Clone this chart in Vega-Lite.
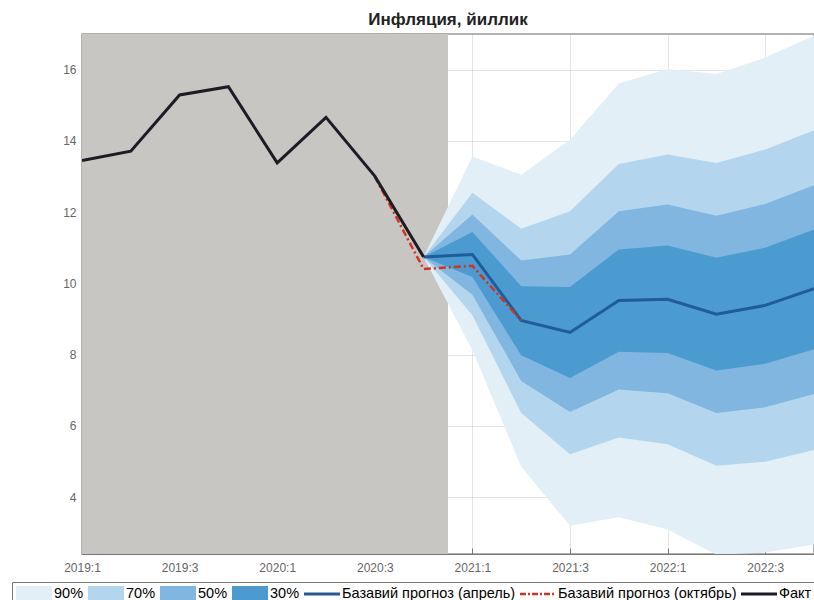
{
  "$schema": "https://vega.github.io/schema/vega-lite/v6.json",
  "width": 732,
  "height": 520,
  "autosize": "none",
  "padding": {"left": 82, "top": 34, "right": 0, "bottom": 46},
  "background": "white",
  "title": {"text": "Инфляция, йиллик", "anchor": "middle", "font": "Liberation Sans", "fontSize": 17, "fontWeight": "bold", "color": "#222", "offset": 8, "baseline": "bottom", "dy": 20},
  "config": {
    "view": {"stroke": "#999", "strokeWidth": 1.5},
    "axis": {"labelFont": "Liberation Sans", "labelFontSize": 12, "labelColor": "#666666", "domainColor": "#777", "tickColor": "#777", "gridColor": "#000", "gridOpacity": 0.1, "zindex": 1, "title": null, "labelFlush": false},
    "legend": {"title": null, "orient": "none", "legendX": -70, "legendY": 548, "direction": "horizontal", "columns": 7,
      "padding": 4, "strokeColor": "#777", "fillColor": "#fff", "labelFont": "Liberation Sans", "labelFontSize": 14.5, "labelColor": "#000", "labelLimit": 0,
      "labelOffset": 23, "columnPadding": 4, "symbolSize": 225, "symbolStrokeWidth": 0, "symbolOpacity": 1}
  },
  "datasets": {
    "fan": [
      {"t": 7, "band": "90%", "lo": 10.74, "hi": 10.74},
      {"t": 8, "band": "90%", "lo": 8.12, "hi": 13.56},
      {"t": 9, "band": "90%", "lo": 4.85, "hi": 13.05},
      {"t": 10, "band": "90%", "lo": 3.19, "hi": 14.03},
      {"t": 11, "band": "90%", "lo": 3.43, "hi": 15.61},
      {"t": 12, "band": "90%", "lo": 3.09, "hi": 16.02},
      {"t": 13, "band": "90%", "lo": 2.38, "hi": 15.88},
      {"t": 14, "band": "90%", "lo": 2.44, "hi": 16.34},
      {"t": 15, "band": "90%", "lo": 2.67, "hi": 16.95},
      {"t": 7, "band": "70%", "lo": 10.74, "hi": 10.74},
      {"t": 8, "band": "70%", "lo": 9.10, "hi": 12.54},
      {"t": 9, "band": "70%", "lo": 6.36, "hi": 11.53},
      {"t": 10, "band": "70%", "lo": 5.20, "hi": 12.02},
      {"t": 11, "band": "70%", "lo": 5.67, "hi": 13.35},
      {"t": 12, "band": "70%", "lo": 5.48, "hi": 13.62},
      {"t": 13, "band": "70%", "lo": 4.88, "hi": 13.38},
      {"t": 14, "band": "70%", "lo": 4.99, "hi": 13.76},
      {"t": 15, "band": "70%", "lo": 5.32, "hi": 14.30},
      {"t": 7, "band": "50%", "lo": 10.74, "hi": 10.74},
      {"t": 8, "band": "50%", "lo": 9.68, "hi": 11.93},
      {"t": 9, "band": "50%", "lo": 7.26, "hi": 10.64},
      {"t": 10, "band": "50%", "lo": 6.39, "hi": 10.81},
      {"t": 11, "band": "50%", "lo": 7.02, "hi": 12.02},
      {"t": 12, "band": "50%", "lo": 6.91, "hi": 12.21},
      {"t": 13, "band": "50%", "lo": 6.36, "hi": 11.90},
      {"t": 14, "band": "50%", "lo": 6.52, "hi": 12.23},
      {"t": 15, "band": "50%", "lo": 6.89, "hi": 12.75},
      {"t": 7, "band": "30%", "lo": 10.74, "hi": 10.74},
      {"t": 8, "band": "30%", "lo": 10.18, "hi": 11.44},
      {"t": 9, "band": "30%", "lo": 7.98, "hi": 9.92},
      {"t": 10, "band": "30%", "lo": 7.34, "hi": 9.90},
      {"t": 11, "band": "30%", "lo": 8.08, "hi": 10.95},
      {"t": 12, "band": "30%", "lo": 8.04, "hi": 11.06},
      {"t": 13, "band": "30%", "lo": 7.55, "hi": 10.72},
      {"t": 14, "band": "30%", "lo": 7.74, "hi": 11.00},
      {"t": 15, "band": "30%", "lo": 8.15, "hi": 11.51}
    ],
    "lines": [
      {"t": 0, "series": "Факт", "v": 13.45},
      {"t": 1, "series": "Факт", "v": 13.71},
      {"t": 2, "series": "Факт", "v": 15.29},
      {"t": 3, "series": "Факт", "v": 15.52},
      {"t": 4, "series": "Факт", "v": 13.38},
      {"t": 5, "series": "Факт", "v": 14.66},
      {"t": 6, "series": "Факт", "v": 13.01},
      {"t": 7, "series": "Факт", "v": 10.74},
      {"t": 6, "series": "Базавий прогноз (октябрь)", "v": 13.0},
      {"t": 7, "series": "Базавий прогноз (октябрь)", "v": 10.40},
      {"t": 8, "series": "Базавий прогноз (октябрь)", "v": 10.49},
      {"t": 9, "series": "Базавий прогноз (октябрь)", "v": 8.96},
      {"t": 7, "series": "Базавий прогноз (апрель)", "v": 10.74},
      {"t": 8, "series": "Базавий прогноз (апрель)", "v": 10.81},
      {"t": 9, "series": "Базавий прогноз (апрель)", "v": 8.96},
      {"t": 10, "series": "Базавий прогноз (апрель)", "v": 8.62},
      {"t": 11, "series": "Базавий прогноз (апрель)", "v": 9.52},
      {"t": 12, "series": "Базавий прогноз (апрель)", "v": 9.55},
      {"t": 13, "series": "Базавий прогноз (апрель)", "v": 9.13},
      {"t": 14, "series": "Базавий прогноз (апрель)", "v": 9.38},
      {"t": 15, "series": "Базавий прогноз (апрель)", "v": 9.85}
    ],
    "shade": [{"a": 0, "b": 7.5}]
  },
  "encoding": {
    "x": {"type": "quantitative", "scale": {"domain": [0, 15], "nice": false, "zero": false},
      "axis": {"values": [0, 2, 4, 6, 8, 10, 12, 14], "labelExpr": "(2019 + floor(datum.value / 4)) + ':' + (datum.value % 4 + 1)", "tickSize": -6, "labelPadding": 14, "grid": true}}
  },
  "layer": [
    {
      "data": {"name": "shade"},
      "mark": {"type": "rect", "color": "#c8c6c3"},
      "encoding": {"x": {"field": "a", "type": "quantitative"}, "x2": {"field": "b"}}
    },
    {
      "data": {"name": "fan"},
      "transform": [{"filter": "datum.band === '90%'"}],
      "mark": {"type": "area", "opacity": 1, "clip": true},
      "encoding": {
        "x": {"field": "t", "type": "quantitative"},
        "y": {"field": "lo", "type": "quantitative", "scale": {"domain": [2.4, 17], "nice": false, "zero": false},
          "axis": {"values": [4, 6, 8, 10, 12, 14, 16], "tickSize": -6, "labelPadding": 12, "grid": true}},
        "y2": {"field": "hi"},
        "fill": {"field": "band", "type": "nominal", "legend": null,
          "scale": {"domain": ["90%", "70%", "50%", "30%"], "range": ["#e3eff7", "#b3d6ee", "#80b6df", "#4b9bd0"]}}
      }
    },
    {
      "data": {"name": "fan"},
      "transform": [{"filter": "datum.band === '70%'"}],
      "mark": {"type": "area", "opacity": 1, "clip": true},
      "encoding": {"x": {"field": "t", "type": "quantitative"}, "y": {"field": "lo", "type": "quantitative"}, "y2": {"field": "hi"}, "fill": {"field": "band", "type": "nominal", "legend": null}}
    },
    {
      "data": {"name": "fan"},
      "transform": [{"filter": "datum.band === '50%'"}],
      "mark": {"type": "area", "opacity": 1, "clip": true},
      "encoding": {"x": {"field": "t", "type": "quantitative"}, "y": {"field": "lo", "type": "quantitative"}, "y2": {"field": "hi"}, "fill": {"field": "band", "type": "nominal", "legend": null}}
    },
    {
      "data": {"name": "fan"},
      "transform": [{"filter": "datum.band === '30%'"}],
      "mark": {"type": "area", "opacity": 1, "clip": true},
      "encoding": {"x": {"field": "t", "type": "quantitative"}, "y": {"field": "lo", "type": "quantitative"}, "y2": {"field": "hi"}, "fill": {"field": "band", "type": "nominal", "legend": null}}
    },
    {
      "data": {"name": "lines"},
      "transform": [{"filter": "datum.series === 'Базавий прогноз (апрель)'"}],
      "mark": {"type": "line", "strokeWidth": 3, "clip": true},
      "encoding": {"x": {"field": "t", "type": "quantitative"}, "y": {"field": "v", "type": "quantitative"},
        "stroke": {"field": "series", "type": "nominal", "legend": null,
          "scale": {"domain": ["Базавий прогноз (апрель)", "Базавий прогноз (октябрь)", "Факт"], "range": ["#1f5c99", "#d7301f", "#1c1c24"]}}}
    },
    {
      "data": {"name": "lines"},
      "transform": [{"filter": "datum.series === 'Базавий прогноз (октябрь)'"}],
      "mark": {"type": "line", "strokeWidth": 2.5, "strokeDash": [7, 3, 2, 3], "clip": true},
      "encoding": {"x": {"field": "t", "type": "quantitative"}, "y": {"field": "v", "type": "quantitative"}, "stroke": {"field": "series", "type": "nominal", "legend": null}}
    },
    {
      "data": {"name": "lines"},
      "transform": [{"filter": "datum.series === 'Факт'"}],
      "mark": {"type": "line", "strokeWidth": 3, "clip": true},
      "encoding": {"x": {"field": "t", "type": "quantitative"}, "y": {"field": "v", "type": "quantitative"}, "stroke": {"field": "series", "type": "nominal", "legend": null}}
    },
    {
      "data": {"name": "lines"},
      "mark": {"type": "point", "filled": true, "opacity": 0, "size": 225},
      "encoding": {"x": {"field": "t", "type": "quantitative"}, "y": {"field": "v", "type": "quantitative"},
        "color": {"field": "series", "type": "nominal",
          "scale": {"domain": ["90%", "70%", "50%", "30%", "Базавий прогноз (апрель)", "Базавий прогноз (октябрь)", "Факт"],
            "range": ["#e3eff7", "#b3d6ee", "#80b6df", "#4b9bd0", "#1f5c99", "#d7301f", "#1c1c24"]}},
        "shape": {"field": "series", "type": "nominal",
          "scale": {"domain": ["90%", "70%", "50%", "30%", "Базавий прогноз (апрель)", "Базавий прогноз (октябрь)", "Факт"],
            "range": ["M-1,-1H3.8V1H-1Z", "M-1,-1H3.8V1H-1Z", "M-1,-1H3.8V1H-1Z", "M-1,-1H3.8V1H-1Z", "M-1,-0.2H3.8V0.2H-1Z",
              "M-1,-0.17H-0.2V0.17H-1Z M0.07,-0.17H0.33V0.17H0.07Z M0.6,-0.17H1.4V0.17H0.6Z M1.67,-0.17H1.93V0.17H1.67Z M2.2,-0.17H3V0.17H2.2Z M3.27,-0.17H3.53V0.17H3.27Z",
              "M-1,-0.2H3.8V0.2H-1Z"]}}
      }
    }
  ]
}
